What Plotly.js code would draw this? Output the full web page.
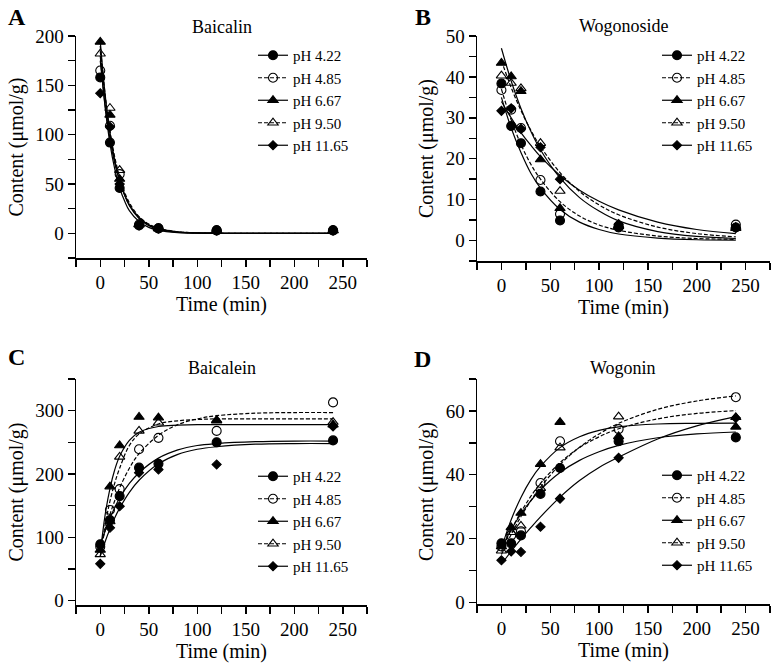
<!DOCTYPE html>
<html>
<head>
<meta charset="utf-8">
<script src="https://cdn.plot.ly/plotly-3.0.1.min.js"></script>
<style>html,body{margin:0;padding:0;background:#fff;}#chart{width:779px;height:670px;}</style>
</head>
<body>
<div id="chart"></div>
<script>
// ---------- data ----------
const times = [0, 10, 20, 40, 60, 120, 240];
const phLabels = ['pH 4.22', 'pH 4.85', 'pH 6.67', 'pH 9.50', 'pH 11.65'];
const panelTitles = ['Baicalin', 'Wogonoside', 'Baicalein', 'Wogonin'];
const panelLetters = ['A', 'B', 'C', 'D'];

// Baicalin (A) measured
const baicalin_422 = [158, 92, 46, 8, 5, 3, 3];
const baicalin_485 = [165, 109, 60, 9, 5, 3, 3];
const baicalin_667 = [194, 120, 55, 9, 5, 3, 3];
const baicalin_950 = [182, 127, 64, 9, 5, 3, 3];
const baicalin_1165 = [142, 108, 50, 8, 5, 3, 3];
// Baicalin fitted curves
const baicalinFitT = [0, 5, 10, 15, 20, 25, 30, 40, 50, 60, 80, 100, 120, 160, 200, 240];
const baicalinFit_422 = [180, 128, 91, 65, 46, 33, 23, 12, 6, 3, 0.8, 0.2, 0.1, 0, 0, 0];
const baicalinFit_485 = [185, 136, 100, 73, 54, 40, 29, 16, 8.5, 4.6, 1.3, 0.4, 0.1, 0, 0, 0];
const baicalinFit_667 = [195, 141, 102, 74, 53, 39, 28, 15, 7.7, 4, 1.1, 0.3, 0.1, 0, 0, 0];
const baicalinFit_950 = [190, 141, 104, 77, 57, 42, 31, 17, 9.5, 5.2, 1.6, 0.5, 0.1, 0, 0, 0];
const baicalinFit_1165 = [175, 130, 96, 71, 53, 39, 29, 16, 8.7, 4.8, 1.4, 0.4, 0.1, 0, 0, 0];

// Wogonoside (B) measured
const wogonoside_422 = [38.4, 28, 23.8, 12, 4.9, 3.2, 3.2];
const wogonoside_485 = [36.8, 32, 27.5, 14.8, 6.5, 3.6, 3.9];
const wogonoside_667 = [43.4, 40.1, 36.5, 19.8, 7.9, 3.5, 3.0];
const wogonoside_950 = [40.3, 38.5, 37.2, 23.8, 12.1, 3.7, 3.3];
const wogonoside_1165 = [31.7, 32.3, 27.3, 22.8, 15, 4.0, 3.1];
// Wogonoside fitted curves
const wogonosideFitT = [0, 10, 20, 30, 40, 60, 80, 100, 120, 160, 200, 240];
const wogonosideFit_422 = [35, 27.5, 21.5, 16.5, 12.8, 7.6, 4.5, 2.7, 1.6, 0.6, 0.2, 0.1];
const wogonosideFit_485 = [37, 29.5, 23.5, 18.7, 15, 9.5, 6, 3.8, 2.5, 1.1, 0.5, 0.3];
const wogonosideFit_667 = [47, 39, 32.3, 26.8, 22.2, 15.3, 10.5, 7.2, 4.8, 2.2, 1, 0.5];
const wogonosideFit_950 = [44, 37.4, 31.8, 27, 23, 16.6, 12, 8.7, 6.3, 3.3, 1.7, 0.9];
const wogonosideFit_1165 = [34, 30, 26.4, 23.3, 20.5, 15.9, 12.3, 9.6, 7.5, 4.5, 2.7, 1.7];

// Baicalein (C) measured
const baicalein_422 = [89, 127, 165, 210, 216, 250, 253];
const baicalein_485 = [85, 143, 176, 239, 257, 268, 313];
const baicalein_667 = [80, 180, 245, 290, 289, 285, 278];
const baicalein_950 = [73, 125, 227, 268, 281, 284, 282];
const baicalein_1165 = [58, 115, 149, 202, 207, 215, 275];
// Baicalein fitted curves
const baicaleinFitT = [0, 5, 10, 15, 20, 30, 40, 60, 80, 100, 120, 160, 200, 240];
const baicaleinFit_422 = [88, 110, 130, 147, 162, 185, 202, 225, 238, 245, 248, 251, 252, 252];
const baicaleinFit_485 = [80, 110, 136, 158, 178, 209, 232, 261, 278, 287, 292, 296, 297, 297];
const baicaleinFit_667 = [75, 135, 177, 207, 228, 253, 266, 275, 277, 278, 278, 278, 278, 278];
const baicaleinFit_950 = [70, 119, 157, 186, 209, 245, 263, 279, 284, 286, 287, 287, 287, 287];
const baicaleinFit_1165 = [70, 93, 113, 131, 146, 171, 190, 216, 231, 239, 243, 247, 248, 248];

// Wogonin (D) measured
const wogonin_422 = [18.5, 18.5, 21, 34, 42.1, 50.5, 51.7];
const wogonin_485 = [17.5, 21, 22.3, 37.4, 50.5, 54.3, 64.3];
const wogonin_667 = [17.5, 23.5, 28, 43.3, 56.5, 52, 55];
const wogonin_950 = [16.2, 22, 24, 35.8, 48.5, 58.2, 58];
const wogonin_1165 = [13.2, 16, 15.8, 23.7, 32.5, 45.3, 57.8];
// Wogonin fitted curves
const wogoninFitT = [0, 10, 20, 30, 40, 60, 80, 100, 120, 160, 200, 240];
const wogoninFit_422 = [17, 22.8, 27.7, 31.8, 35.3, 40.7, 44.5, 47.2, 49.2, 51.6, 52.8, 53.4];
const wogoninFit_485 = [15, 21.3, 26.9, 31.8, 36.1, 43.2, 48.6, 52.8, 56.1, 60.5, 63.1, 64.7];
const wogoninFit_667 = [17, 25.9, 32.9, 38.4, 42.6, 48.5, 51.9, 53.9, 55, 55.9, 56.1, 56.2];
const wogoninFit_950 = [16, 22.7, 28.3, 33.2, 37.3, 43.8, 48.5, 51.9, 54.4, 57.5, 59.2, 60.1];
const wogoninFit_1165 = [12, 16, 19.8, 23.4, 26.8, 33, 38.2, 42.3, 45.5, 51.2, 55.3, 58.2];

// ---------- styling ----------
const FONT = '"Liberation Serif", "Times New Roman", serif';
const styles = [
  {symbol: 'circle', size: 9, dash: 'solid'},
  {symbol: 'circle-open', size: 9, dash: '4px,2px'},
  {symbol: 'triangle-up', size: 9, dash: 'solid'},
  {symbol: 'triangle-up-open', size: 9, dash: '4px,2px'},
  {symbol: 'diamond', size: 7, dash: 'solid'}
];

const panels = [
  {meas: [baicalin_422, baicalin_485, baicalin_667, baicalin_950, baicalin_1165],
   fitT: baicalinFitT,
   fit: [baicalinFit_422, baicalinFit_485, baicalinFit_667, baicalinFit_950, baicalinFit_1165]},
  {meas: [wogonoside_422, wogonoside_485, wogonoside_667, wogonoside_950, wogonoside_1165],
   fitT: wogonosideFitT,
   fit: [wogonosideFit_422, wogonosideFit_485, wogonosideFit_667, wogonosideFit_950, wogonosideFit_1165]},
  {meas: [baicalein_422, baicalein_485, baicalein_667, baicalein_950, baicalein_1165],
   fitT: baicaleinFitT,
   fit: [baicaleinFit_422, baicaleinFit_485, baicaleinFit_667, baicaleinFit_950, baicaleinFit_1165]},
  {meas: [wogonin_422, wogonin_485, wogonin_667, wogonin_950, wogonin_1165],
   fitT: wogoninFitT,
   fit: [wogoninFit_422, wogoninFit_485, wogoninFit_667, wogoninFit_950, wogoninFit_1165]}
];

const legendNames = ['legend', 'legend2', 'legend3', 'legend4'];
const traces = [];
panels.forEach((p, pi) => {
  const xa = pi === 0 ? 'x' : 'x' + (pi + 1);
  const ya = pi === 0 ? 'y' : 'y' + (pi + 1);
  for (let s = 0; s < 5; s++) {
    const st = styles[s];
    traces.push({
      type: 'scatter', mode: 'lines', x: p.fitT, y: p.fit[s], xaxis: xa, yaxis: ya,
      line: {color: '#000', width: 1.2, dash: st.dash, shape: 'spline', smoothing: 1},
      showlegend: false, hoverinfo: 'skip'
    });
    traces.push({
      type: 'scatter', mode: 'markers', x: times, y: p.meas[s], xaxis: xa, yaxis: ya,
      marker: {symbol: st.symbol, size: st.size, color: '#000', line: {color: '#000', width: 1.1}},
      showlegend: false, name: phLabels[s]
    });
    // legend entry (line + marker sample)
    traces.push({
      type: 'scatter', mode: 'lines+markers', x: [null], y: [null], xaxis: xa, yaxis: ya,
      name: phLabels[s], legend: legendNames[pi],
      line: {color: '#000', width: 1.2, dash: st.dash},
      marker: {symbol: st.symbol, size: st.size, color: '#000', line: {color: '#000', width: 1.1}},
      showlegend: true
    });
  }
});

const W = 779, H = 670;
const px = v => v / W;
const py = v => 1 - v / H;

function xAxis(l, r, anchor) {
  return {
    domain: [px(l), px(r)], anchor: anchor, range: [-25, 275],
    tick0: 0, dtick: 50, ticks: 'outside', ticklen: 7, tickwidth: 1.5, tickcolor: '#000',
    minor: {dtick: 25, tick0: 0, ticks: 'outside', ticklen: 7, tickwidth: 1.5, tickcolor: '#000', showgrid: false},
    showline: true, linewidth: 1.5, linecolor: '#000', showgrid: false, zeroline: false,
    tickfont: {family: FONT, size: 19, color: '#000'},
    title: {text: 'Time (min)', font: {family: FONT, size: 20, color: '#000'}, standoff: 1}
  };
}
function yAxis(t, b, anchor, range, dtick, minor) {
  return {
    domain: [py(b), py(t)], anchor: anchor, range: range,
    tick0: 0, dtick: dtick, ticks: 'outside', ticklen: 7, tickwidth: 1.5, tickcolor: '#000',
    minor: {dtick: minor, tick0: 0, ticks: 'outside', ticklen: 7, tickwidth: 1.5, tickcolor: '#000', showgrid: false},
    showline: true, linewidth: 1.5, linecolor: '#000', showgrid: false, zeroline: false,
    tickfont: {family: FONT, size: 19, color: '#000'},
    title: {text: 'Content (μmol/g)', font: {family: FONT, size: 20, color: '#000'}, standoff: 6}
  };
}
function legendAt(left, top) {
  return {
    x: px(left), y: py(top), xanchor: 'left', yanchor: 'top',
    font: {family: FONT, size: 15, color: '#000'}, bgcolor: 'rgba(0,0,0,0)',
    tracegroupgap: 0, itemwidth: 30
  };
}

const annotations = [];
const letterPos = [[16.5, 17], [423, 17], [16.5, 357], [422.5, 359]];
const titlePos = [[222, 27], [623.5, 26], [222, 368], [623, 368]];
for (let i = 0; i < 4; i++) {
  annotations.push({text: '<b>' + panelLetters[i] + '</b>', xref: 'paper', yref: 'paper',
    x: px(letterPos[i][0]), y: py(letterPos[i][1]), xanchor: 'center', yanchor: 'middle',
    showarrow: false, font: {family: FONT, size: 24, color: '#000'}});
  annotations.push({text: panelTitles[i], xref: 'paper', yref: 'paper',
    x: px(titlePos[i][0]), y: py(titlePos[i][1]), xanchor: 'center', yanchor: 'middle',
    showarrow: false, font: {family: FONT, size: 18, color: '#000'}});
}

const layout = {
  width: W, height: H, margin: {l: 0, r: 0, t: 0, b: 0},
  paper_bgcolor: '#fff', plot_bgcolor: '#fff',
  font: {family: FONT, color: '#000'},
  xaxis: xAxis(76, 367, 'y'),
  yaxis: yAxis(36, 258, 'x', [-25, 200], 50, 25),
  xaxis2: xAxis(477, 770, 'y2'),
  yaxis2: yAxis(36, 261, 'x2', [-5, 50], 10, 5),
  xaxis3: xAxis(76, 367, 'y3'),
  yaxis3: yAxis(379, 605, 'x3', [-7, 350], 100, 50),
  xaxis4: xAxis(477, 770, 'y4'),
  yaxis4: yAxis(379, 604, 'x4', [-0.5, 70], 20, 10),
  legend: legendAt(253, 39),
  legend2: legendAt(657, 39),
  legend3: legendAt(253, 460),
  legend4: legendAt(657, 459),
  annotations: annotations,
  showlegend: true
};

Plotly.newPlot('chart', traces, layout, {staticPlot: true, displayModeBar: false});
</script>
</body>
</html>
